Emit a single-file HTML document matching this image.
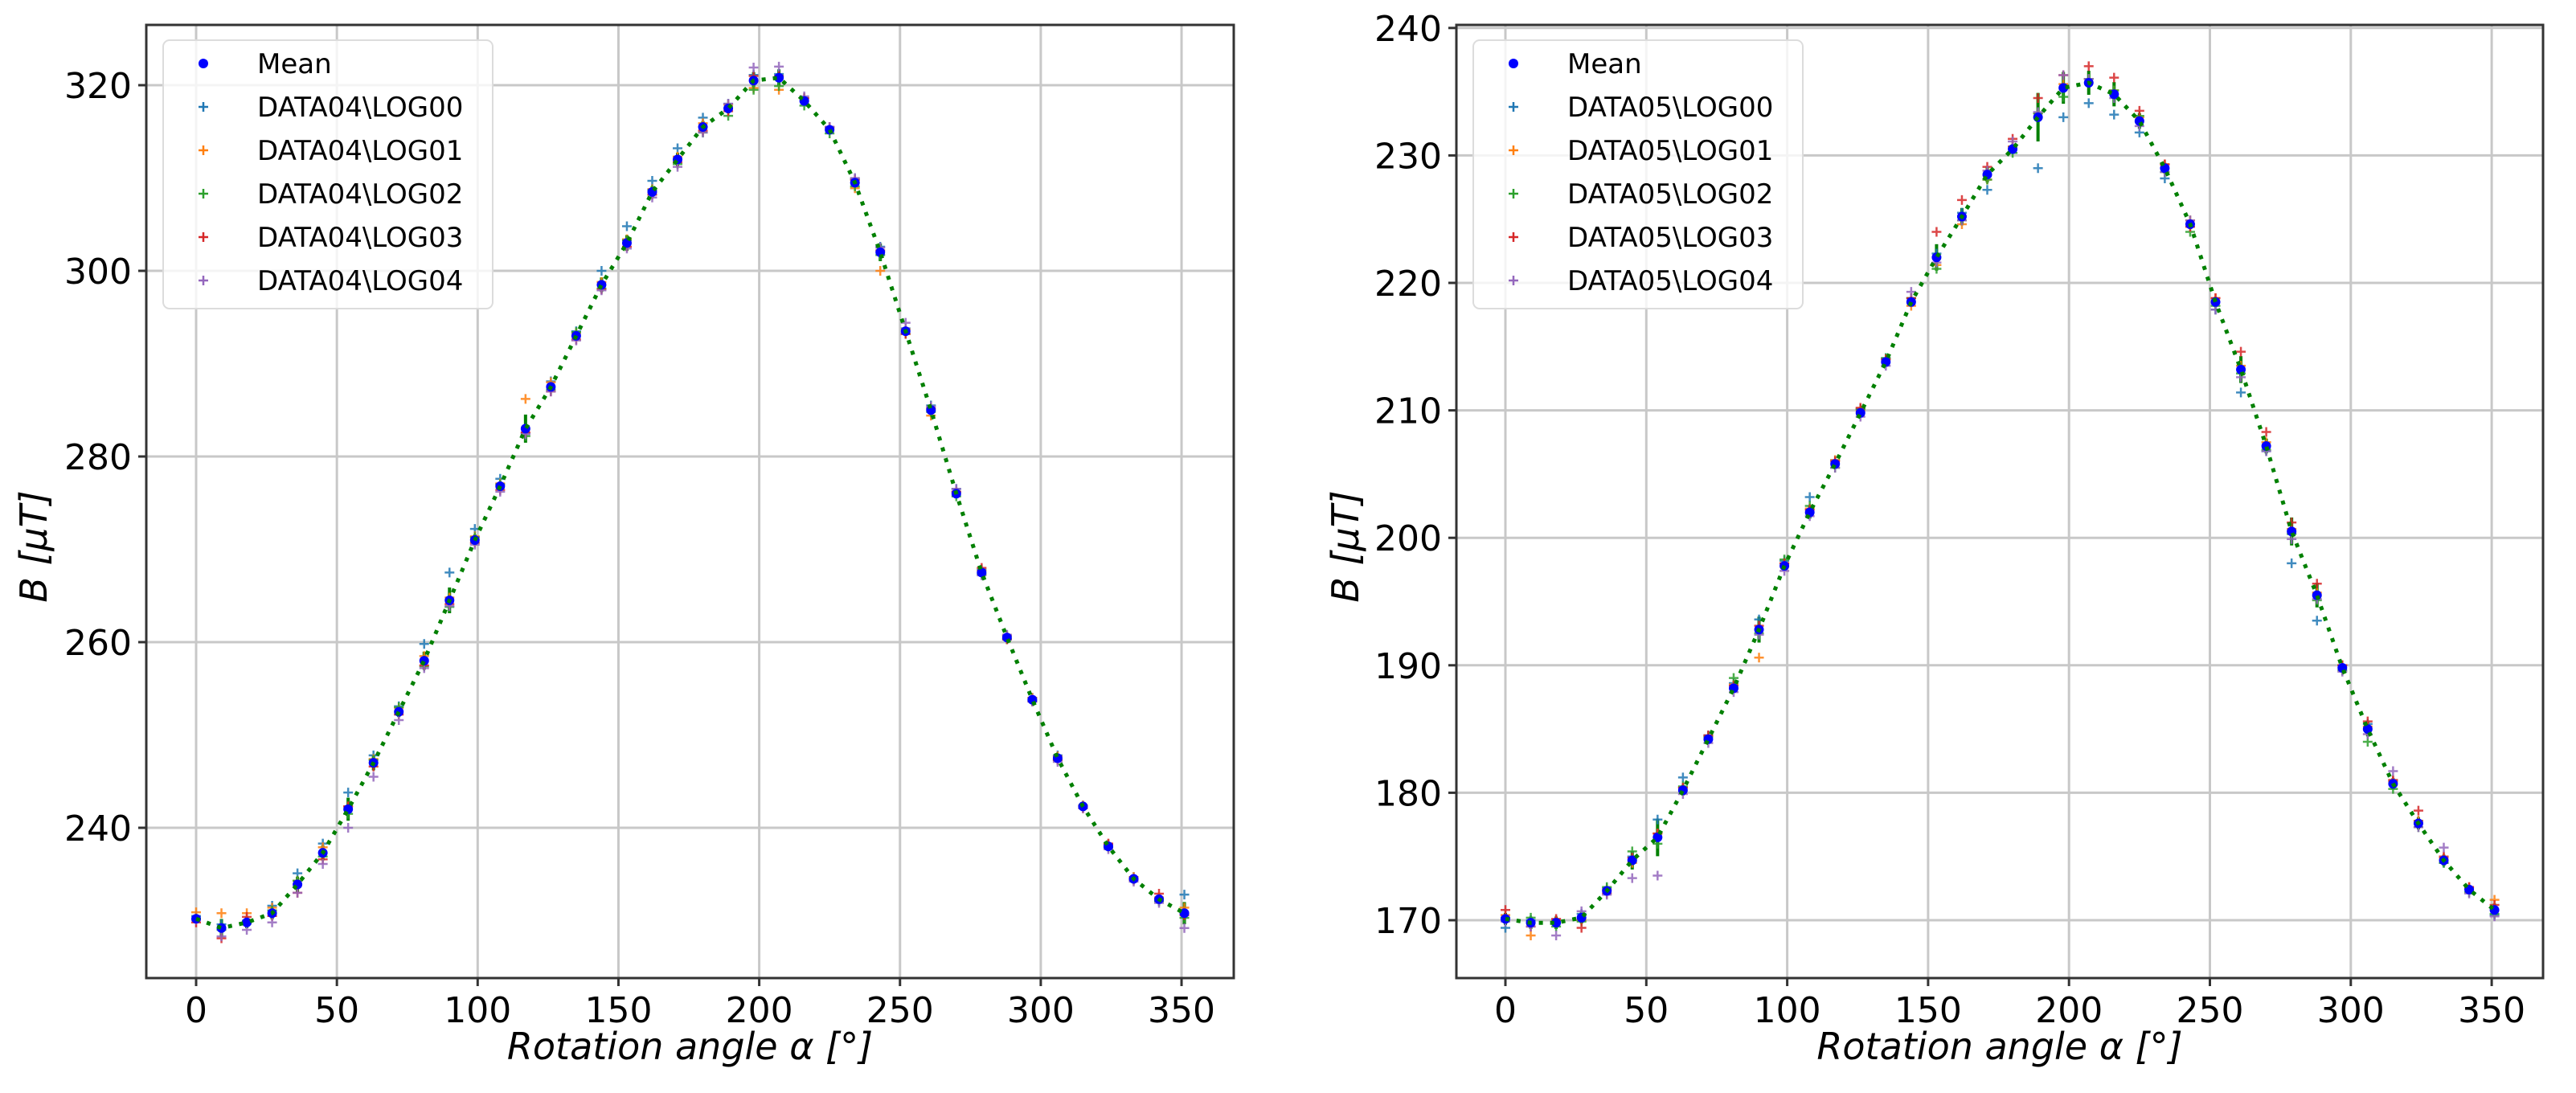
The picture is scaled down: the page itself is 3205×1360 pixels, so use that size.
<!DOCTYPE html>
<html><head><meta charset="utf-8"><style>
html,body{margin:0;padding:0;background:#fff}
svg{display:block}
text{font-family:"DejaVu Sans","Liberation Sans",sans-serif}
</style></head><body>
<svg id="chart" width="3205" height="1360" viewBox="0 0 3205 1360" xmlns="http://www.w3.org/2000/svg"></svg>
<script>
const angles=[0,9,18,27,36,45,54,63,72,81,90,99,108,117,126,135,144,153,162,171,180,189,198,207,216,225,234,243,252,261,270,279,288,297,306,315,324,333,342,351];
const meanA=[230.2,229.2,229.8,230.8,233.9,237.3,242,247,252.5,258,264.5,271,276.8,283,287.5,293,298.5,303,308.5,312,315.5,317.5,320.5,320.8,318.3,315.2,309.5,302,293.5,285,276,267.5,260.5,253.8,247.5,242.3,238,234.5,232.3,230.8];
const meanB=[170.1,169.8,169.8,170.2,172.3,174.7,176.5,180.2,184.2,188.2,192.8,197.8,202,205.8,209.8,213.8,218.5,222,225.2,228.5,230.5,233,235.3,235.7,234.8,232.7,229,224.6,218.5,213.2,207.2,200.5,195.5,189.8,185,180.7,177.6,174.7,172.4,170.8];
// per-log deviations from mean (read approx.)
const offA0=[0.3,0.4,0.2,0.8,1.2,1,1.8,0.8,0.6,1.8,3,1.2,0.8,-0.5,0.6,0.5,1.5,1.8,1.2,1.2,1,0.5,0.6,0.4,0.3,0.3,0.4,0.6,0.3,0.5,0.5,0.3,0.2,0.2,0.3,0.1,0.2,0.2,-0.2,2];
const offA1=[0.7,1.6,1,0.6,0.4,0.6,0.3,0.4,0.4,0.5,0.3,0.4,0.3,3.2,0.5,0.3,0.3,0.4,0.3,0.3,0.4,0.4,-0.8,-1.3,0.3,0.2,-0.6,-2,0.2,-0.6,0.2,0.2,0.2,0.2,0.2,0.1,0.2,0.2,0.2,0.6];
const offA2=[0,-0.2,-0.1,0.3,0.4,-0.4,-0.5,0.3,0.5,-0.6,-0.7,0.3,0.2,-0.8,-0.3,0.4,-0.4,0.3,0.2,-0.5,-0.6,-0.8,-1,-0.9,-0.5,-0.4,-0.4,-0.3,-0.3,-0.2,-0.3,-0.2,-0.2,-0.1,-0.2,-0.1,-0.1,-0.1,-0.2,-0.5];
const offA3=[-0.4,-1.1,0.6,-0.3,-0.9,-0.7,0.3,-0.4,-0.3,-0.5,-0.4,-0.3,-0.4,-0.4,-0.5,-0.4,-0.5,-0.4,-0.3,-0.3,-0.4,-0.3,0.5,0.2,0.3,0.3,0.3,0.2,-0.3,0.2,0.2,0.5,-0.2,-0.2,-0.2,-0.2,0.3,-0.1,0.6,-0.2];
const offA4=[-0.1,-0.9,-0.8,-1,-0.9,-1.2,-2,-1.5,-0.9,-0.8,-0.6,-0.5,-0.6,-0.6,-0.5,-0.5,-0.6,-0.6,-0.6,-0.8,-0.6,0.5,1.4,1.2,0.5,0.3,0.5,0.5,0.9,0.4,0.5,-0.3,0.3,-0.2,-0.4,-0.2,-0.3,-0.3,-0.4,-1.6];
const offB0=[-0.7,0.2,0.2,0.3,0.2,0.3,1.4,1,0.3,0.4,0.8,0.4,1.2,0.3,0.3,0.3,0.3,0.3,0.3,-1.2,0.2,-4,-2.3,-1.6,-1.6,-0.9,-0.8,0.3,-0.6,-1.8,-0.4,-2.5,-2,0.2,0.4,0.2,0.2,-0.2,0.1,-0.4];
const offB1=[0.3,-1,0.2,-0.2,0.1,-0.2,0.3,0.2,0.2,0.3,-2.2,0.2,0.3,0.3,0.2,0.2,-0.3,-0.6,-0.6,-0.4,0.2,0.3,0.3,0.3,0.3,0.3,0.3,0.3,0.3,0.3,0.3,0.2,0.2,0.2,0.2,0.2,0.2,0.2,0.2,0.8];
const offB2=[0.1,0.4,-0.3,-0.3,0.3,0.7,-0.5,0.3,0.2,0.8,-0.3,0.5,0.5,-0.3,0.3,0.3,0.3,-0.9,-0.3,-0.4,-0.3,0.3,-0.7,0.3,0.3,0.4,-0.3,-0.6,-0.3,-0.3,-0.3,-0.2,-0.4,-0.2,-1,-0.4,-0.3,-0.2,-0.2,-0.3];
const offB3=[0.7,-0.3,0.3,-0.8,-0.2,0.2,0.3,0.2,0.3,0.2,0.3,0.2,0.2,0.2,0.4,0.2,0.3,2,1.3,0.6,0.8,1.5,1,1.3,1.3,0.8,0.3,-0.2,0.3,1.4,1.1,0.7,0.9,0.2,0.6,0.3,1,0.3,0.2,0.4];
const offB4=[-0.2,-0.3,-1,0.5,-0.3,-1.4,-3,-0.3,-0.3,-0.3,-0.4,-0.4,-0.3,-0.3,-0.3,-0.3,0.8,-0.4,-0.3,0.3,0.6,0.4,1,0.3,-0.3,-0.4,-0.3,0.3,-0.6,-0.6,-0.4,-0.6,-0.3,-0.3,-0.4,1,-0.3,1,-0.3,-0.5];
const xTicks=[0,50,100,150,200,250,300,350];
const yTicksA=[240,260,280,300,320];
const yTicksB=[170,180,190,200,210,220,230,240];
const logColors=["#1f77b4","#ff7f0e","#2ca02c","#d62728","#9467bd"];
const NS="http://www.w3.org/2000/svg";
const svg=document.getElementById('chart');
function mk(tag,attrs,parent){const e=document.createElementNS(NS,tag);for(const k in attrs)e.setAttribute(k,attrs[k]);(parent||svg).appendChild(e);return e;}

function panel(cfg){
  const g=mk('g',{});
  
  
  const X=v=>cfg.x0+(v-0)*cfg.xs;
  const Y=v=>cfg.y0-(v-cfg.yRef)*cfg.ys;
  const L=cfg.left,R=cfg.right,T=31,B=1217;
  // grid
  xTicks.forEach(t=>{const l=mk('line',{x1:X(t),x2:X(t),y1:T,y2:B,stroke:'#c8c8c8','stroke-width':3},g);
    });
  cfg.yTicks.forEach(t=>{const l=mk('line',{x1:L,x2:R,y1:Y(t),y2:Y(t),stroke:'#c8c8c8','stroke-width':3},g);
    });
  // error bars
  cfg.means.forEach((m,i)=>{
    const vals=cfg.offs.map(o=>m+o[i]);
    const mean=vals.reduce((a,b)=>a+b,0)/vals.length;
    const sd=Math.sqrt(vals.reduce((a,b)=>a+(b-mean)*(b-mean),0)/vals.length);
    const e=mk('line',{x1:X(angles[i]),x2:X(angles[i]),y1:Y(m-sd),y2:Y(m+sd),stroke:'#008000','stroke-width':4},g);
    
  });
  // log markers
  cfg.offs.forEach((o,k)=>{
    const lg=mk('g',{stroke:logColors[k],'stroke-width':2.5,opacity:0.85},g);
    
    cfg.means.forEach((m,i)=>{
      const x=X(angles[i]),y=Y(m+o[i]);
      const p=mk('path',{d:`M${x-6} ${y}H${x+6}M${x} ${y-6}V${y+6}`},lg);
      
    });
  });
  // means
  cfg.means.forEach((m,i)=>{
    const c=mk('circle',{cx:X(angles[i]),cy:Y(m),r:6,fill:'#0000ff'},g);
    
  });
  // dotted fit line
  const d=cfg.means.map((m,i)=>(i?'L':'M')+X(angles[i]).toFixed(1)+' '+Y(m).toFixed(1)).join('');
  const fl=mk('path',{d:d,fill:'none',stroke:'#008000','stroke-width':5,'stroke-dasharray':'5 9'},g);
  
  // spines
  const sp=mk('rect',{x:L,y:T,width:R-L,height:B-T,fill:'none',stroke:'#333','stroke-width':3},g);
  
  // ticks
  xTicks.forEach(t=>{mk('line',{x1:X(t),x2:X(t),y1:B,y2:B+10,stroke:'#333','stroke-width':3},g);
    const tx=mk('text',{x:X(t),y:B+55,'font-size':44,'text-anchor':'middle',fill:'#000'},g);tx.textContent=t;
    });
  cfg.yTicks.forEach(t=>{mk('line',{x1:L-10,x2:L,y1:Y(t),y2:Y(t),stroke:'#333','stroke-width':3},g);
    const tx=mk('text',{x:L-18,y:Y(t)+16,'font-size':44,'text-anchor':'end',fill:'#000'},g);tx.textContent=t;
    });
  // axis titles
  const xt=mk('text',{x:(L+R)/2,y:1318,'font-size':46,'font-style':'italic','text-anchor':'middle',fill:'#000'},g);
  xt.textContent='Rotation angle α [°]';
  const yt=mk('text',{x:0,y:0,'font-size':46,'font-style':'italic','text-anchor':'middle',fill:'#000',transform:`translate(${cfg.ylx},680) rotate(-90)`},g);
  yt.textContent='B [μT]';
  // legend
  const lgd=mk('g',{},g);
  const lx=cfg.legX;
  mk('rect',{x:lx,y:50,width:410,height:334,rx:8,fill:'#fff','fill-opacity':0.8,stroke:'#dcdcdc','stroke-width':2},lgd);
  const labels=['Mean'].concat([0,1,2,3,4].map(k=>cfg.prefix+'\\LOG0'+k));
  labels.forEach((lab,k)=>{
    const yy=79+k*54;
    const mx=lx+50;
    if(k===0)mk('circle',{cx:mx,cy:yy,r:6,fill:'#0000ff'},lgd);
    else mk('path',{d:`M${mx-6} ${yy}H${mx+6}M${mx} ${yy-6}V${yy+6}`,stroke:logColors[k-1],'stroke-width':2.5},lgd);
    const t=mk('text',{x:lx+117,y:yy+12,'font-size':34,fill:'#000'},lgd);t.textContent=lab;
    
  });
}
panel({name:'left-panel',left:182,right:1535,x0:244,xs:3.503,yRef:300,y0:337,ys:11.55,yTicks:yTicksA,means:meanA,offs:[offA0,offA1,offA2,offA3,offA4],legX:203,prefix:'DATA04',ylx:58});
panel({name:'right-panel',left:1812,right:3164,x0:1873,xs:3.506,yRef:170,y0:1145,ys:15.86,yTicks:yTicksB,means:meanB,offs:[offB0,offB1,offB2,offB3,offB4],legX:1833,prefix:'DATA05',ylx:1690});
</script>
</body></html>
